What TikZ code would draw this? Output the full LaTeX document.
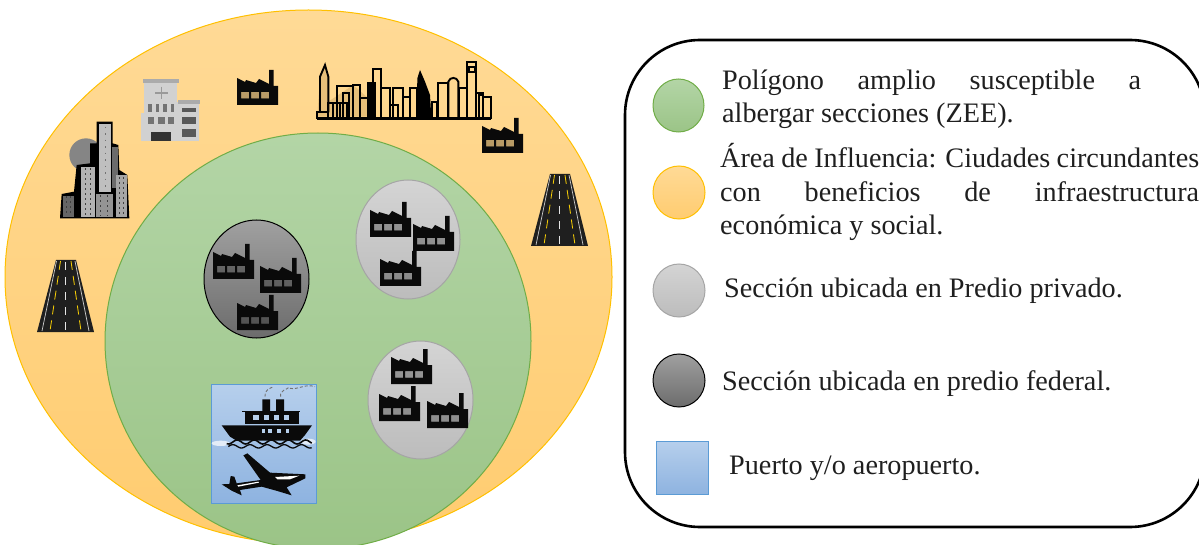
\documentclass[tikz,border=0pt]{standalone}
\usepackage{fontspec}
\setmainfont{Liberation Serif}
\definecolor{edgeO}{HTML}{FFC000}
\definecolor{edgeG}{HTML}{70AD47}
\definecolor{edgeL}{HTML}{A5A5A5}
\definecolor{edgeB}{HTML}{5B9BD5}
\definecolor{ink}{HTML}{0A0A0A}
\definecolor{oTop}{HTML}{FFDA96}
\definecolor{oBot}{HTML}{FFCC70}
\definecolor{gTop}{HTML}{B3D5A6}
\definecolor{gBot}{HTML}{9BC487}
\definecolor{lTop}{HTML}{D4D4D4}
\definecolor{lBot}{HTML}{BCBCBC}
\definecolor{dTop}{HTML}{A0A0A0}
\definecolor{dBot}{HTML}{6C6C6C}
\definecolor{bTop}{HTML}{B6CFEC}
\definecolor{bBot}{HTML}{8EB3E0}
\definecolor{tanfill}{HTML}{E6BF7A}
\tikzset{
  orangefill/.style={draw=edgeO,line width=1pt,top color=oTop,bottom color=oBot},
  greenfill/.style={draw=edgeG,line width=1pt,top color=gTop,bottom color=gBot},
  lightfill/.style={draw=edgeL,line width=1pt,top color=lTop,bottom color=lBot},
  darkfill/.style={draw=black,line width=1pt,top color=dTop,bottom color=dBot},
  bluefill/.style={draw=edgeB,line width=1pt,top color=bTop,bottom color=bBot},
  legendtext/.style={anchor=base west,inner sep=0pt,text=black!88,font=\fontsize{28.2}{32}\selectfont},
  zoomed/.style={x=0.33333pt,y=-0.33333pt},
  factory/.pic={
    \fill[ink,even odd rule]
      (0,8)--(8,12)--(9,10)--(19,13)--(22,9)--(32,14)--(32,0)--(36.5,0)--(36.5,16)--(41,16)--(41,35)--(0,35)--cycle
      (4,22) rectangle (12,28.5) (14,22) rectangle (22,28.5) (24,22) rectangle (32,28.5);
    \fill[black,opacity=.28] (4,22) rectangle (12,28.5) (14,22) rectangle (22,28.5) (24,22) rectangle (32,28.5);
  },
  road/.pic={
    \fill[black!88] (19,0)--(39,0)--(57,72)--(0,72)--cycle;
    \draw[white!60!gray,line width=.7pt] (19.5,1)--(5,71) (38,1)--(52,71);
    \draw[yellow!70!orange,line width=.8pt,dash pattern=on 9pt off 6pt] (23.5,1)--(13,71) (34,1)--(44,71);
    \draw[white!80!gray,line width=1.5pt,dash pattern=on 8pt off 7pt] (28.5,2)--(28.5,71);
  }
}
\begin{document}
\begin{tikzpicture}[x=1pt,y=-1pt]
\useasboundingbox (0,0) rectangle (1199,545);
\clip (0,0) rectangle (1199,545);
% large areas
\path[orangefill] (308.5,277) ellipse [x radius=303.5,y radius=267];
\path[greenfill] (318,341) ellipse [x radius=213,y radius=208];
\path[darkfill] (256.5,279) ellipse [x radius=52.5,y radius=59];
\path[lightfill] (408,239.5) ellipse [x radius=52,y radius=59.5];
\path[lightfill] (420.5,400) ellipse [x radius=52.5,y radius=59];
\path[bluefill] (211,384) rectangle (316,503);
% factories
\foreach \fx/\fy in {237/70,482/118,370/202,413/216,380/251,213/244,260/258,237/295,391/349,379/386,427/393}
  \pic at (\fx,\fy) {factory};
% roads
\pic at (37,260) {road};
\pic at (531,174) {road};
% skyline
\begin{scope}[shift={(310,55)},zoomed,line width=1.9pt,draw=black]
  \fill[tanfill] (22,185)--(30,65)--(45,30)--(55,65)--(55,140)--(130,90)--(175,130)--(175,185)--cycle;
  \foreach \a/\b/\c/\d in {22/172/55/188,55/145/110/188,68/145/90/188,80/92/130/188,100/115/118/188,130/90/150/188,150/130/175/188,
     175/85/195/188,190/42/212/188,212/100/240/188,240/150/265/188,250/100/280/188,280/125/300/188,300/100/322/188,
     365/140/380/188,385/85/415/188,447/100/470/188,470/20/498/188,478/35/495/50,498/115/520/188,520/125/542/188,508/120/520/188}
    \draw (\a,\b) rectangle (\c,\d);
  \draw (30,172)--(30,65)--(45,30)--(55,65)--(55,172);
  \fill (175,85) rectangle (190,188);
  \fill (320,188)--(322,70)--(330,45)--(345,80)--(360,120)--(364,188)--cycle;
  \draw (415,188)--(415,80)..controls (420,65) and (440,65)..(445,80)--(445,188);
  \fill (22,185) rectangle (542,194);
\end{scope}
% hospital
\begin{scope}[shift={(40,50)},zoomed]
  \fill[black!18] (312,95) rectangle (412,273);
  \fill[black!18] (304,190) rectangle (312,273);
  \fill[black!18] (412,155) rectangle (477,273);
  \fill[black!33] (308,87) rectangle (418,98);
  \fill[black!33] (413,150) rectangle (480,163);
  \fill[black!80] (332,245) rectangle (393,273);
  \foreach \wx/\wr in {325/337,347/358,368/382,392/402} \fill[black!55] (\wx,163) rectangle (\wr,187);
  \foreach \wx/\wr in {325/343,355/375,383/402} \fill[black!55] (\wx,200) rectangle (\wr,223);
  \fill[black!65] (425,175) rectangle (468,187);
  \fill[black!65] (425,200) rectangle (468,222);
  \fill[black!65] (425,238) rectangle (468,262);
  \draw[black!40,line width=1.2pt] (365,110)--(365,148) (345,129)--(385,129);
\end{scope}
% towers
\begin{scope}[shift={(50,120)},zoomed]
  \fill[black!48] (108,105) circle [radius=50];
  \fill[black] (30,295)--(35,222)--(72,215)--(80,135)--(120,130)--(120,70)--(140,70)--(140,5)--(188,5)--(188,70)--(205,75)--(208,150)--(232,165)--(238,295)--cycle;
  \fill[black!25] (146,12) rectangle (183,215);
  \fill[black!58] (186,80) rectangle (203,205);
  \fill[black!30] (94,140) rectangle (134,290);
  \fill[black!42] (137,222) rectangle (190,290);
  \fill[black!35] (197,165) rectangle (230,290);
  \fill[black!60] (38,228) rectangle (72,290);
  \foreach \lx/\lt in {48/228,60/228,105/145,120/145,150/226,172/226,208/170,220/170}
    \draw[black!75,line width=.7pt,dash pattern=on 2pt off 3pt] (\lx,\lt)--(\lx,288);
  \draw[black!55,line width=.7pt,dash pattern=on 1.5pt off 5pt] (165,20)--(165,210);
\end{scope}
% ship and plane
\begin{scope}[shift={(190,340)},zoomed]
  \fill[white,opacity=.7] (92,310) ellipse [x radius=27,y radius=8] (355,305) ellipse [x radius=22,y radius=9];
  \draw[black!55,line width=.9pt,dash pattern=on 3pt off 2pt] (225,170)..controls (222,150) and (240,145)..(250,140) (272,170)..controls (268,150) and (290,150)..(300,140) (300,145)..controls (325,150) and (345,130)..(375,140);
  \fill[ink] (217,178) rectangle (240,215) (258,178) rectangle (282,215);
  \fill[ink] (155,212) rectangle (330,217);
  \fill[ink] (165,215) rectangle (328,252);
  \fill[ink] (95,256)--(366,256)--(345,285)--(330,302)--(140,302)--(120,290)--cycle;
  \foreach \wx in {190,222,252,282} \fill[bTop] (\wx,225) rectangle ++(16,14);
  \foreach \wx in {215,235,262,288} \fill[bTop] (\wx,268) rectangle ++(10,10);
  \draw[ink,line width=1.6pt,domain=110:365,samples=70] plot (\x,{306+6*sin(\x*7)});
  \draw[ink,line width=1.3pt,domain=115:365,samples=70] plot (\x,{319+5*sin(\x*7+90)});
  \fill[ink] (95,433)--(118,432)--(122,408)--(133,410)--(140,430)--(212,420)--(160,346)--(172,340)--(240,398)--(346,403)--(346,415)--(290,442)--(305,466)--(262,453)--(215,440)--(150,450)--(155,466)--(125,452)--cycle;
  \fill[white] (142,436)--(205,425)--(207,428)--(145,440)--cycle;
  \fill[white] (255,411)--(328,407)--(300,418)--(262,418)--cycle;
\end{scope}
% legend
\draw[black,line width=2.6pt,rounded corners=75pt] (625,40) rectangle (1205,527);
\path[greenfill] (678.5,105.5) ellipse [x radius=25.5,y radius=26.5];
\path[orangefill] (679,192.5) ellipse [x radius=26,y radius=26.5];
\path[lightfill] (679,290.5) ellipse [x radius=26,y radius=26.5];
\path[darkfill] (679,380.5) ellipse [x radius=26,y radius=26.5];
\path[bluefill] (656,441) rectangle (708,494);
\node[legendtext] (t1) at (722,89.5) {\hbox to 419pt{Polígono\hfill amplio\hfill susceptible\hfill a}};
\node[legendtext] (t2) at (722,123) {albergar secciones (ZEE).};
\node[legendtext] (t3) at (720,168) {\hbox to 479pt{Área de Influencia: Ciudades circundantes}};
\node[legendtext] (t4) at (720,201.5) {\hbox to 479pt{con\hfill beneficios\hfill de\hfill infraestructura}};
\node[legendtext] (t5) at (720,235) {económica y social.};
\node[legendtext] (t6) at (724,298) {Sección ubicada en Predio privado.};
\node[legendtext] (t7) at (722,390) {Sección ubicada en predio federal.};
\node[legendtext] (t8) at (729,474) {Puerto y/o aeropuerto.};
\end{tikzpicture}
\end{document}
